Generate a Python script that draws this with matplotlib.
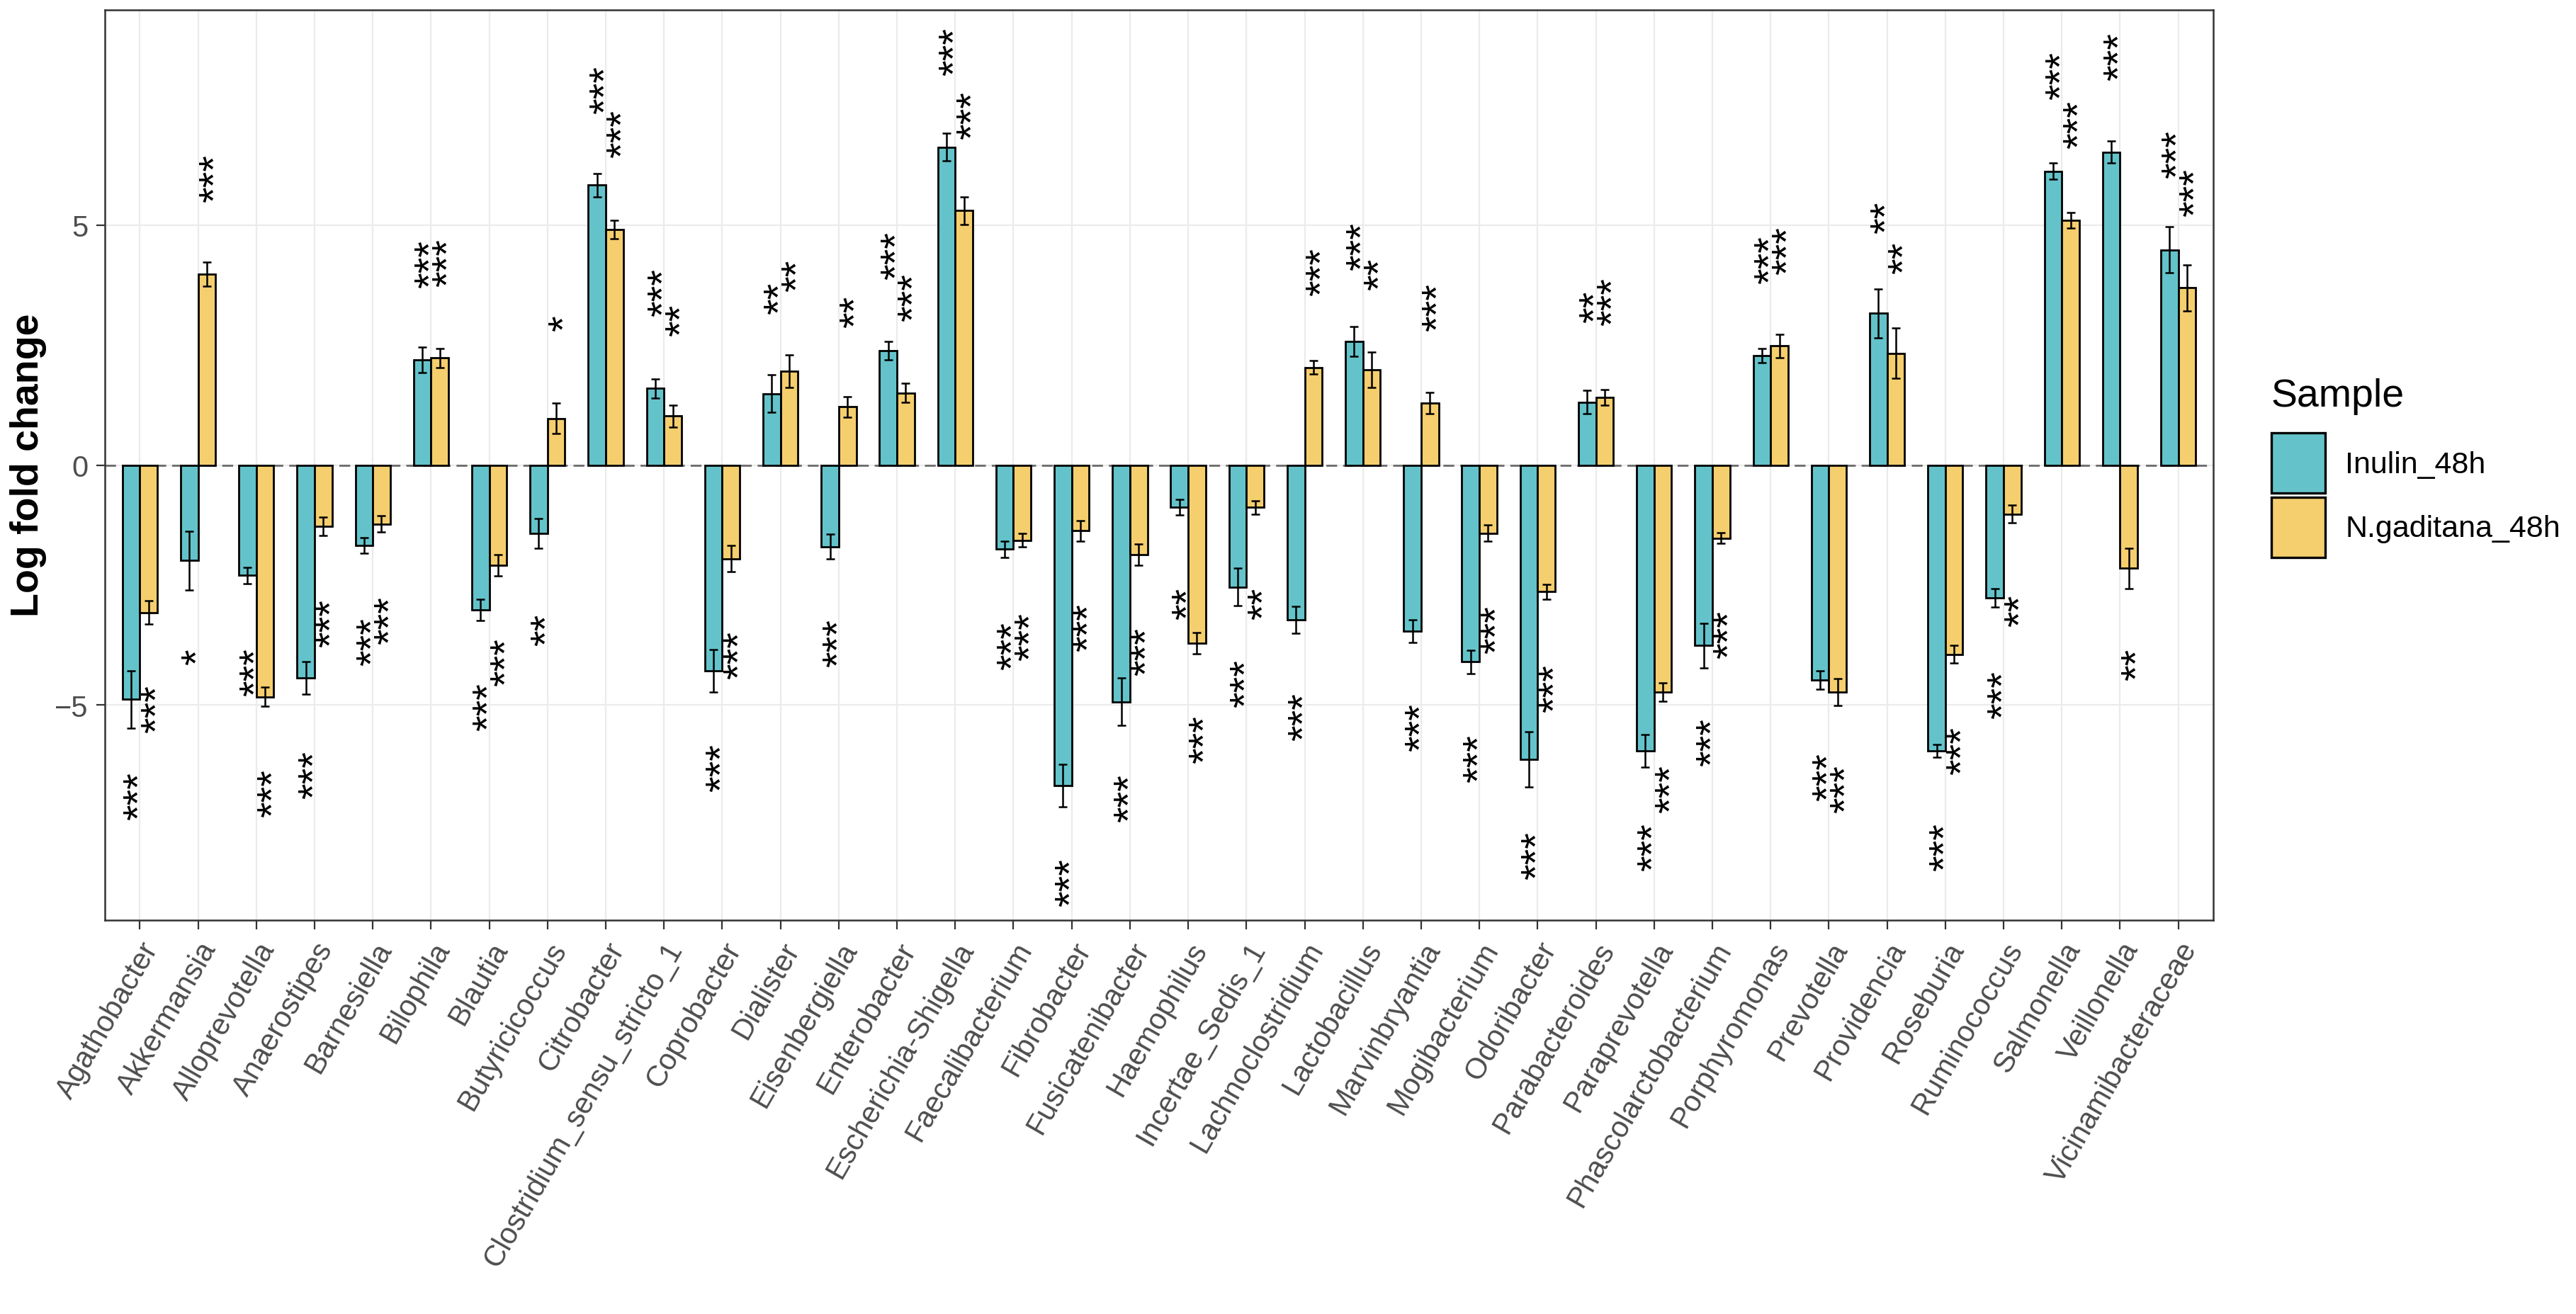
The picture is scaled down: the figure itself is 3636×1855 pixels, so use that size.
#!/usr/bin/env python3
"""
plot.py - Log fold change per genus, Inulin vs N.gaditana after 48 h.

Grouped bars with standard error bars and significance stars.
"""

import numpy as np
import matplotlib
matplotlib.use('Agg')
import matplotlib.pyplot as plt
from matplotlib.patches import Patch
from matplotlib.transforms import offset_copy

plt.rcParams['font.family'] = ['Liberation Sans', 'DejaVu Sans']

# Data
GENERA = ['Agathobacter', 'Akkermansia', 'Alloprevotella', 'Anaerostipes',
          'Barnesiella', 'Bilophila', 'Blautia', 'Butyricicoccus',
          'Citrobacter', 'Clostridium_sensu_stricto_1', 'Coprobacter',
          'Dialister', 'Eisenbergiella', 'Enterobacter', 'Escherichia-Shigella',
          'Faecalibacterium', 'Fibrobacter', 'Fusicatenibacter', 'Haemophilus',
          'Incertae_Sedis_1', 'Lachnoclostridium', 'Lactobacillus',
          'Marvinbryantia', 'Mogibacterium', 'Odoribacter', 'Parabacteroides',
          'Paraprevotella', 'Phascolarctobacterium', 'Porphyromonas',
          'Prevotella', 'Providencia', 'Roseburia', 'Ruminococcus',
          'Salmonella', 'Veillonella', 'Vicinamibacteraceae']

SAMPLES = ['Inulin_48h', 'N.gaditana_48h']

INULIN_LFC = [-4.88, -1.99, -2.30, -4.44, -1.67, 2.19, -3.02, -1.42, 5.83, 1.60,
              -4.29, 1.49, -1.70, 2.38, 6.62, -1.75, -6.68, -4.93, -0.88, -2.54,
              -3.23, 2.57, -3.46, -4.10, -6.13, 1.31, -5.95, -3.76, 2.28, -4.48,
              3.16, -5.95, -2.77, 6.12, 6.52, 4.48]
INULIN_SE = [0.60, 0.61, 0.17, 0.34, 0.16, 0.27, 0.22, 0.31, 0.24, 0.20,
             0.44, 0.39, 0.26, 0.19, 0.29, 0.17, 0.44, 0.49, 0.16, 0.39,
             0.28, 0.31, 0.24, 0.24, 0.58, 0.24, 0.34, 0.46, 0.15, 0.19,
             0.51, 0.13, 0.19, 0.17, 0.23, 0.48]
INULIN_SIG = ['***', '*', '***', '***', '***', '***', '***', '**', '***', '***',
              '***', '**', '***', '***', '***', '***', '***', '***', '**', '***',
              '***', '***', '***', '***', '***', '**', '***', '***', '***', '***',
              '**', '***', '***', '***', '***', '***']

NGAD_LFC = [-3.07, 3.98, -4.83, -1.28, -1.23, 2.23, -2.09, 0.97, 4.91, 1.02,
            -1.95, 1.95, 1.21, 1.50, 5.30, -1.57, -1.37, -1.87, -3.71, -0.88,
            2.03, 1.99, 1.29, -1.42, -2.64, 1.41, -4.73, -1.52, 2.48, -4.73,
            2.33, -3.94, -1.02, 5.10, -2.15, 3.69]
NGAD_SE = [0.24, 0.25, 0.20, 0.19, 0.17, 0.20, 0.22, 0.32, 0.19, 0.23,
           0.27, 0.34, 0.21, 0.20, 0.29, 0.14, 0.21, 0.22, 0.22, 0.14,
           0.14, 0.37, 0.22, 0.17, 0.16, 0.16, 0.19, 0.11, 0.24, 0.28,
           0.52, 0.19, 0.18, 0.16, 0.42, 0.48]
NGAD_SIG = ['***', '***', '***', '***', '***', '***', '***', '*', '***', '**',
            '***', '**', '**', '***', '***', '***', '***', '***', '***', '**',
            '***', '**', '***', '***', '***', '***', '***', '***', '***', '***',
            '**', '***', '**', '***', '**', '***']

# Styling
COLORS = ['#64C3CA', '#F5CE6E']
BAR_W = 0.3
STAR_OFFSET = 2.0  # stars sit 2 units beyond the bar end
TICK_GREY = '#4D4D4D'
BORDER = '#333333'
W, H = 3636, 1856
DPI = 200


def main():
    fig = plt.figure(figsize=(W / DPI, H / DPI), dpi=DPI)
    # panel: x 148..3124 px, y 15..1300 px
    ax = fig.add_axes([148 / W, 1 - 1300 / H, (3124 - 148) / W, (1300 - 15) / H])

    x = np.arange(len(GENERA))
    series = [(INULIN_LFC, INULIN_SE, INULIN_SIG),
              (NGAD_LFC, NGAD_SE, NGAD_SIG)]
    offsets = [-BAR_W / 2, BAR_W / 2]

    # star glyphs sit high in the line box, shift them back onto the bar centre
    star_tf = offset_copy(ax.transData, fig=fig, x=5, y=0, units='points')

    for (vals, se, sig), off, col in zip(series, offsets, COLORS):
        vals = np.array(vals)
        xs = x + off
        ax.bar(xs, vals, width=BAR_W, color=col, edgecolor='black',
               linewidth=1.0, zorder=2)
        ax.errorbar(xs, vals, yerr=se, fmt='none', ecolor='black',
                    elinewidth=0.9, capsize=2.25, capthick=0.9, zorder=3)
        for xi, v, s in zip(xs, vals, sig):
            ax.text(xi, v + STAR_OFFSET * np.sign(v), s, rotation=90,
                    ha='center', va='center', fontsize=21, color='black',
                    transform=star_tf, zorder=4)

    ax.axhline(0, color='#6B6B6B', lw=1.0, linestyle=(0, (5.5, 3)), zorder=1.5)

    ax.set_xlim(-0.6, len(GENERA) - 0.4)
    ax.set_ylim(-9.48, 9.48)
    ax.set_yticks([-5, 0, 5])
    ax.set_xticks(x)
    ax.set_xticklabels(GENERA, rotation=60, ha='right', va='top',
                       rotation_mode='anchor')

    ax.set_axisbelow(True)
    ax.grid(True, color='#EBEBEB', lw=0.8)
    for sp in ax.spines.values():
        sp.set_color(BORDER)
        sp.set_linewidth(0.9)
    ax.tick_params(length=4.5, width=0.8, color=BORDER, labelsize=15,
                   labelcolor=TICK_GREY, pad=4)

    fig.text(40 / W, 1 - 657 / H, 'Log fold change', rotation=90,
             ha='center', va='center', fontsize=20, fontweight='bold')

    # legend: keys + labels, title placed separately (ggplot leaves more room)
    handles = [Patch(facecolor=c, edgecolor='black', linewidth=1.2)
               for c in COLORS]
    ax.legend(handles, SAMPLES, loc='center left',
              bbox_to_anchor=(3206 / W, 1 - 700 / H),
              bbox_transform=fig.transFigure, frameon=False,
              fontsize=15.5, handlelength=1.77,
              handleheight=2.67, handletextpad=0.65, labelspacing=0.12,
              borderpad=0, borderaxespad=0)
    fig.text(3206 / W, 1 - 574 / H, 'Sample', ha='left', va='baseline',
             fontsize=20)

    fig.savefig('out.png', dpi=DPI)


if __name__ == '__main__':
    main()
